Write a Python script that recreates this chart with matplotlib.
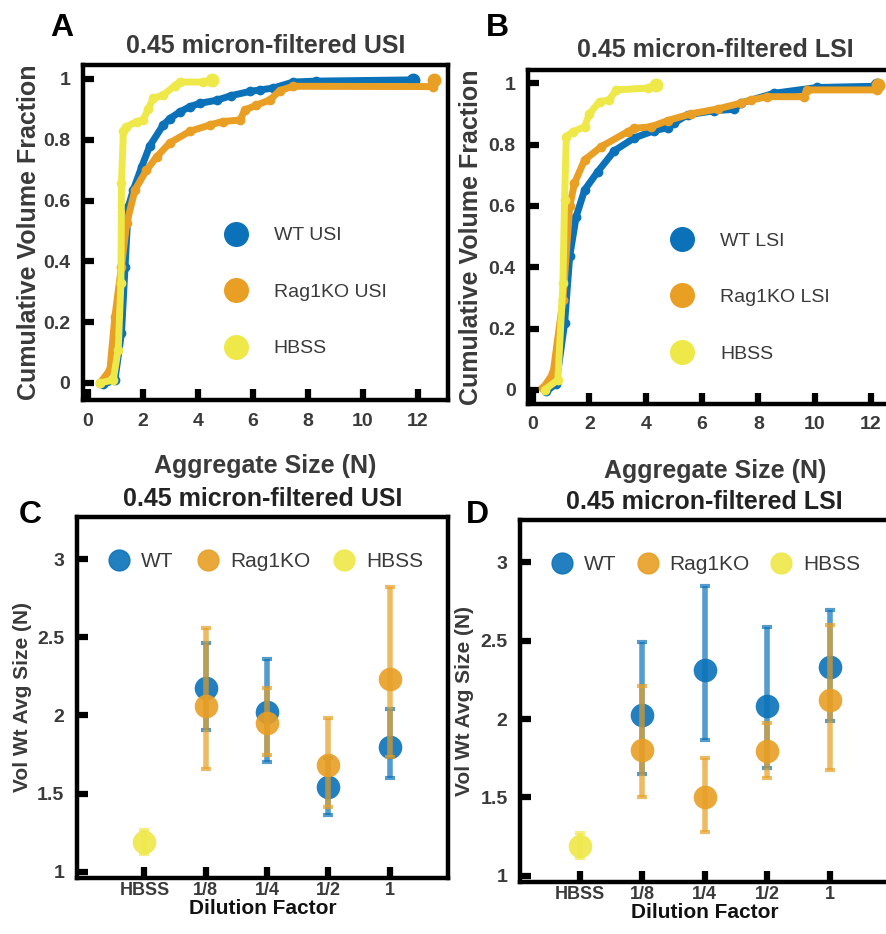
import matplotlib
matplotlib.use("Agg")
import matplotlib.pyplot as plt
from matplotlib.lines import Line2D
from matplotlib.ticker import FuncFormatter

plt.rcParams['font.family'] = ['Liberation Sans', 'DejaVu Sans']

# ---------------- data ----------------
# Panel A: cumulative volume fraction vs aggregate size, USI
wt_usi_x = [0.56, 0.98, 1.22, 1.35, 1.47, 1.65, 1.95, 2.25, 2.74, 2.98, 3.35,
            3.71, 4.07, 4.68, 5.2, 5.89, 6.25, 6.74, 7.47, 8.3, 11.83]
wt_usi_y = [-0.005, 0.01, 0.164, 0.383, 0.58, 0.635, 0.71, 0.78, 0.849, 0.87, 0.892,
            0.909, 0.92, 0.93, 0.945, 0.959, 0.964, 0.97, 0.99, 0.993, 0.997]
rag_usi_x = [0.44, 0.8, 0.98, 1.22, 1.41, 1.71, 2.13, 2.5, 2.98, 3.71, 4.44,
             4.9, 5.53, 5.71, 6.13, 6.62, 6.98, 7.47, 12.56, 12.6]
rag_usi_y = [0.0, 0.043, 0.218, 0.383, 0.525, 0.635, 0.70, 0.744, 0.79, 0.828, 0.849,
             0.86, 0.865, 0.898, 0.914, 0.931, 0.962, 0.976, 0.975, 0.997]
hbss_usi_x = [0.44, 0.92, 1.1, 1.2, 1.22, 1.29, 1.4, 1.77, 2.0, 2.19, 2.37,
              2.74, 3.16, 3.35, 4.19, 4.5]
hbss_usi_y = [0.0, 0.01, 0.11, 0.33, 0.657, 0.83, 0.843, 0.86, 0.865, 0.90, 0.936,
              0.947, 0.978, 0.99, 0.99, 0.997]

# Panel B: cumulative volume fraction vs aggregate size, LSI
wt_lsi_x = [0.47, 0.82, 1.12, 1.3, 1.53, 1.83, 2.3, 2.89, 3.6, 4.3, 4.78,
            5.01, 5.49, 6.43, 7.14, 7.37, 8.55, 10.09, 12.15, 12.2]
wt_lsi_y = [-0.005, 0.02, 0.217, 0.435, 0.565, 0.652, 0.712, 0.78, 0.822, 0.845, 0.855,
            0.87, 0.897, 0.91, 0.915, 0.935, 0.967, 0.986, 0.99, 0.995]
rag_lsi_x = [0.35, 0.71, 1.06, 1.3, 1.47, 1.83, 2.42, 3.36, 3.6, 4.19, 4.78,
             5.6, 6.55, 7.37, 7.73, 8.32, 9.61, 9.73, 12.22, 12.25]
rag_lsi_y = [0.005, 0.054, 0.293, 0.598, 0.674, 0.75, 0.793, 0.842, 0.853, 0.858, 0.878,
             0.90, 0.916, 0.935, 0.945, 0.956, 0.956, 0.978, 0.978, 0.993]
hbss_lsi_x = [0.41, 0.88, 1.06, 1.12, 1.18, 1.42, 1.83, 2.0, 2.36, 2.7, 2.95, 4.07, 4.36]
hbss_lsi_y = [0.0, 0.033, 0.348, 0.62, 0.826, 0.842, 0.858, 0.90, 0.94, 0.945, 0.978,
              0.984, 0.994]

# Panels C/D: volume-weighted average size per dilution factor
dilution_labels = ["HBSS", "1/8", "1/4", "1/2", "1"]
hbss_pos = [1]
dil_pos = [2, 3, 4, 5]

hbss_usi_mean = [1.19]
hbss_usi_lo = [1.113]
hbss_usi_hi = [1.267]
wt_usi_mean = [2.176, 2.024, 1.545, 1.80]
wt_usi_lo = [1.904, 1.705, 1.363, 1.599]
wt_usi_hi = [2.464, 2.36, 1.73, 2.043]
rag_usi_mean = [2.062, 1.955, 1.68, 2.233]
rag_usi_lo = [1.656, 1.748, 1.413, 1.737]
rag_usi_hi = [2.56, 2.176, 1.987, 2.823]

hbss_lsi_mean = [1.19]
hbss_lsi_lo = [1.112]
hbss_lsi_hi = [1.274]
wt_lsi_mean = [2.027, 2.315, 2.082, 2.335]
wt_lsi_lo = [1.647, 1.865, 1.69, 1.99]
wt_lsi_hi = [2.49, 2.846, 2.59, 2.698]
rag_lsi_mean = [1.80, 1.502, 1.796, 2.12]
rag_lsi_lo = [1.50, 1.278, 1.622, 1.675]
rag_lsi_hi = [2.213, 1.753, 1.975, 2.597]

# ---------------- style ----------------
BLUE = '#0B72B9'
ORANGE = '#E89F24'
YELLOW = '#EFE849'
TXT = '#3a3a3a'

W, H = 886, 934
fig = plt.figure(figsize=(W / 100, H / 100), dpi=100)


def box(l, t, r, b):
    return [l / W, 1 - b / H, (r - l) / W, (b - t) / H]


def style_axes(ax, ticksize=14):
    for s in ax.spines.values():
        s.set_linewidth(3.2)
        s.set_color('black')
    ax.tick_params(direction='in', length=8, width=4.5, color='black',
                   labelsize=ticksize, labelcolor=TXT, pad=9,
                   top=False, right=False)
    for lab in ax.get_xticklabels() + ax.get_yticklabels():
        lab.set_fontweight('bold')


def gfmt(v, _):
    return ('%g' % v)


# ---------------- panels A and B ----------------
def cdf_panel(rect, curves, title, names, ylim, label_x, xlab_y, leg_anchor):
    ax = fig.add_axes(rect)
    for (x, y, c) in curves:
        ax.plot(x, y, color=c, lw=5, marker='o', ms=6, mec=c, mfc=c,
                solid_joinstyle='round', solid_capstyle='round')
        ax.plot(x[-1], y[-1], ls='none', marker='o', ms=9, color=c)
    ax.set_xlim(-0.18, 13.1)
    ax.set_ylim(*ylim)
    ax.set_xticks([0, 2, 4, 6, 8, 10, 12])
    ax.set_yticks([0, 0.2, 0.4, 0.6, 0.8, 1])
    ax.yaxis.set_major_formatter(FuncFormatter(gfmt))
    style_axes(ax)
    ax.set_title(title, fontsize=18, fontweight='bold', color=TXT, pad=9)
    ax.set_ylabel('Cumulative Volume Fraction', fontsize=18, fontweight='bold',
                  color=TXT)
    ax.yaxis.set_label_coords(label_x, 0.5)
    ax.set_xlabel('Aggregate Size (N)', fontsize=18, fontweight='bold', color=TXT)
    ax.xaxis.set_label_coords(0.5, xlab_y)
    handles = [Line2D([], [], ls='none', marker='o', ms=17, color=c)
               for c in (BLUE, ORANGE, YELLOW)]
    ax.legend(handles, names, loc='center left', bbox_to_anchor=leg_anchor,
              frameon=False, fontsize=14, labelspacing=2.0, handlelength=1.0,
              handletextpad=1.45, labelcolor=TXT)
    return ax


axA = cdf_panel(box(83, 65, 448, 400),
                [(wt_usi_x, wt_usi_y, BLUE), (rag_usi_x, rag_usi_y, ORANGE),
                 (hbss_usi_x, hbss_usi_y, YELLOW)],
                '0.45 micron-filtered USI', ['WT USI', 'Rag1KO USI', 'HBSS'],
                (-0.056, 1.046), -0.115, -0.16, (0.344, 0.322))

axB = cdf_panel(box(528, 70, 902, 404),
                [(wt_lsi_x, wt_lsi_y, BLUE), (rag_lsi_x, rag_lsi_y, ORANGE),
                 (hbss_lsi_x, hbss_lsi_y, YELLOW)],
                '0.45 micron-filtered LSI', ['WT LSI', 'Rag1KO LSI', 'HBSS'],
                (-0.046, 1.043), -0.12, -0.165, (0.34, 0.319))


# ---------------- panels C and D ----------------
def err_series(ax, pos, mean, lo, hi, color, z):
    yerr = [[m - l for m, l in zip(mean, lo)], [h - m for m, h in zip(mean, hi)]]
    ax.errorbar(pos, mean, yerr=yerr, fmt='none', ecolor=color, elinewidth=4,
                capsize=3.5, capthick=3, alpha=0.7, zorder=z)
    ax.plot(pos, mean, ls='none', marker='o', ms=17, color=color, mec='none',
            alpha=0.9, zorder=z + 0.5)


def avg_panel(rect, title, hbss, wt, rag, xlim, ylab_x, leg_anchor, colsp):
    ax = fig.add_axes(rect)
    err_series(ax, dil_pos, *wt, BLUE, 2)
    err_series(ax, dil_pos, *rag, ORANGE, 3)
    err_series(ax, hbss_pos, *hbss, YELLOW, 4)
    ax.set_xlim(*xlim)
    ax.set_ylim(0.96, 3.27)
    ax.set_xticks([1, 2, 3, 4, 5])
    ax.set_xticklabels(dilution_labels)
    ax.set_yticks([1, 1.5, 2, 2.5, 3])
    ax.yaxis.set_major_formatter(FuncFormatter(gfmt))
    style_axes(ax, ticksize=14)
    ax.tick_params(axis='x', pad=3, labelsize=13)
    ax.set_title(title, fontsize=18, fontweight='bold', color='#222222', pad=8)
    ax.set_ylabel('Vol Wt Avg Size (N)', fontsize=15, fontweight='bold', color=TXT)
    ax.yaxis.set_label_coords(ylab_x, 0.5)
    ax.set_xlabel('Dilution Factor', fontsize=15, fontweight='bold', color='#111111')
    ax.xaxis.set_label_coords(0.5, -0.058)
    handles = [Line2D([], [], ls='none', marker='o', ms=15, color=c, alpha=0.9)
               for c in (BLUE, ORANGE, YELLOW)]
    ax.legend(handles, ['WT', 'Rag1KO', 'HBSS'], loc='center left',
              bbox_to_anchor=leg_anchor, ncol=3, frameon=False, fontsize=15,
              handlelength=1.0, handletextpad=0.55, columnspacing=colsp,
              labelcolor=TXT)
    return ax


axC = avg_panel(box(77, 517, 448, 878), '0.45 micron-filtered USI',
                (hbss_usi_mean, hbss_usi_lo, hbss_usi_hi),
                (wt_usi_mean, wt_usi_lo, wt_usi_hi),
                (rag_usi_mean, rag_usi_lo, rag_usi_hi),
                (-0.1, 5.95), -0.12, (0.035, 0.876), 1.15)

axD = avg_panel(box(520, 520, 889, 882), '0.45 micron-filtered LSI',
                (hbss_lsi_mean, hbss_lsi_lo, hbss_lsi_hi),
                (wt_lsi_mean, wt_lsi_lo, wt_lsi_hi),
                (rag_lsi_mean, rag_lsi_lo, rag_lsi_hi),
                (0.04, 5.95), -0.125, (0.035, 0.876), 1.0)

# panel letters
for letter, px, py in [('A', 62, 28), ('B', 497, 28), ('C', 30, 515), ('D', 477, 515)]:
    fig.text(px / W, 1 - py / H, letter, fontsize=23, fontweight='bold',
             color='black', ha='center', va='center')

fig.savefig('out.png', dpi=100)
